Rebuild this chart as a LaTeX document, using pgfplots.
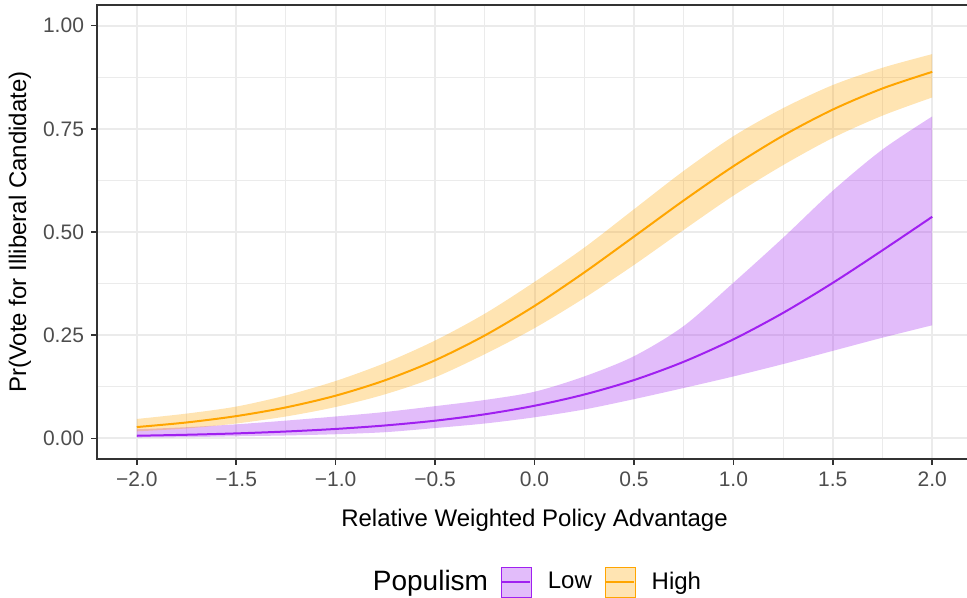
\documentclass[border=0pt]{standalone}
\usepackage{pgfplots}
\pgfplotsset{compat=1.18}
\usepackage{pgfplotstable}
\usepgfplotslibrary{fillbetween}
\usepackage{fontspec}
\setmainfont{Liberation Sans}
\definecolor{lowcol}{HTML}{A020F0}
\definecolor{highcol}{HTML}{FFA500}
\definecolor{gridcol}{HTML}{EBEBEB}
\definecolor{axcol}{HTML}{333333}
\definecolor{tickcol}{HTML}{4D4D4D}

\pgfplotstableread{
x lo mid hi
-2.00 0.002 0.0063 0.022
-1.75 0.003 0.0087 0.027
-1.50 0.005 0.0120 0.034
-1.25 0.007 0.0166 0.043
-1.00 0.010 0.0228 0.053
-0.75 0.015 0.0313 0.064
-0.50 0.025 0.0428 0.078
-0.25 0.036 0.0583 0.093
0.00 0.051 0.0790 0.113
0.25 0.070 0.1062 0.150
0.50 0.095 0.1412 0.199
0.75 0.122 0.1855 0.272
1.00 0.150 0.2398 0.377
1.25 0.180 0.3040 0.486
1.50 0.212 0.3768 0.600
1.75 0.244 0.4557 0.700
2.00 0.274 0.5369 0.780
}\lowtab

\pgfplotstableread{
x lo mid hi
-2.00 0.017 0.0274 0.047
-1.75 0.024 0.0385 0.060
-1.50 0.036 0.0539 0.077
-1.25 0.053 0.0750 0.104
-1.00 0.076 0.1034 0.139
-0.75 0.107 0.1410 0.183
-0.50 0.148 0.1892 0.237
-0.25 0.204 0.2493 0.302
0.00 0.267 0.3208 0.379
0.25 0.340 0.4019 0.462
0.50 0.420 0.4888 0.555
0.75 0.505 0.5763 0.648
1.00 0.588 0.6593 0.732
1.25 0.662 0.7335 0.800
1.50 0.728 0.7966 0.856
1.75 0.782 0.8478 0.898
2.00 0.826 0.8880 0.931
}\hightab

\begin{document}
\begin{tikzpicture}
\begin{axis}[
  at={(0,0)}, anchor=south west,
  scale only axis, width=437.5pt, height=227pt,
  xmin=-2.2, xmax=2.2, ymin=-0.05, ymax=1.05,
  xtick={-2,-1.5,-1,-0.5,0,0.5,1,1.5,2},
  xticklabels={−2.0,−1.5,−1.0,−0.5,0.0,0.5,1.0,1.5,2.0},
  minor xtick={-1.75,-1.25,-0.75,-0.25,0.25,0.75,1.25,1.75},
  ytick={0,0.25,0.5,0.75,1},
  yticklabels={0.00,0.25,0.50,0.75,1.00},
  minor ytick={0.125,0.375,0.625,0.875},
  grid=both,
  major grid style={draw=gridcol, line width=1pt},
  minor grid style={draw=gridcol, line width=0.5pt},
  tick align=outside, major tick length=3pt, minor tick length=0pt,
  xtick pos=bottom, ytick pos=left,
  tick style={draw=axcol, line width=0.8pt},
  axis line style={draw=axcol, line width=0.8pt},
  ticklabel style={font=\fontsize{10.5}{12}\selectfont, text=tickcol},
  /pgf/number format/assume math mode=true,
  xlabel={Relative Weighted Policy Advantage},
  ylabel={Pr(Vote for Illiberal Candidate)},
  label style={font=\fontsize{12}{14}\selectfont},
  xlabel style={at={(rel axis cs:0.5,-0.134)}, anchor=center},
  ylabel style={at={(rel axis cs:-0.088,0.5)}, anchor=center},
  legend style={at={(rel axis cs:0.496,-0.271)}, anchor=center, draw=none, fill=none,
    font=\fontsize{12}{14}\selectfont,
    /tikz/every odd column/.append style={column sep=6pt},
    /tikz/every even column/.append style={column sep=4.5pt}},
  legend columns=-1,
]
% Low populism
\addplot[draw=none, name path=lowlo, smooth, forget plot] table[x=x, y=lo] {\lowtab};
\addplot[draw=none, name path=lowhi, smooth, forget plot] table[x=x, y=hi] {\lowtab};
\addplot[fill=lowcol, fill opacity=0.3, draw=none, forget plot] fill between[of=lowhi and lowlo];
% High populism
\addplot[draw=none, name path=highlo, smooth, forget plot] table[x=x, y=lo] {\hightab};
\addplot[draw=none, name path=highhi, smooth, forget plot] table[x=x, y=hi] {\hightab};
\addplot[fill=highcol, fill opacity=0.3, draw=none, forget plot] fill between[of=highhi and highlo];
% lines
\addplot[lowcol, line width=1pt, smooth, forget plot] table[x=x, y=mid] {\lowtab};
\addplot[highcol, line width=1pt, smooth, forget plot] table[x=x, y=mid] {\hightab};
% legend
\addlegendimage{empty legend}
\addlegendentry{\fontsize{14}{16}\selectfont Populism}
\addlegendimage{legend image code/.code={\fill[lowcol, fill opacity=0.3] (0pt,-7.5pt) rectangle (15pt,7.5pt); \draw[lowcol, line width=1pt] (0.5pt,0pt) -- (14.5pt,0pt);}}
\addlegendentry{Low}
\addlegendimage{legend image code/.code={\fill[highcol, fill opacity=0.3] (0pt,-7.5pt) rectangle (15pt,7.5pt); \draw[highcol, line width=1pt] (0.5pt,0pt) -- (14.5pt,0pt);}}
\addlegendentry{High}
\end{axis}
\pgfresetboundingbox
\useasboundingbox (-48.5pt,-69.5pt) rectangle (435pt,229.5pt);
\end{tikzpicture}
\end{document}
